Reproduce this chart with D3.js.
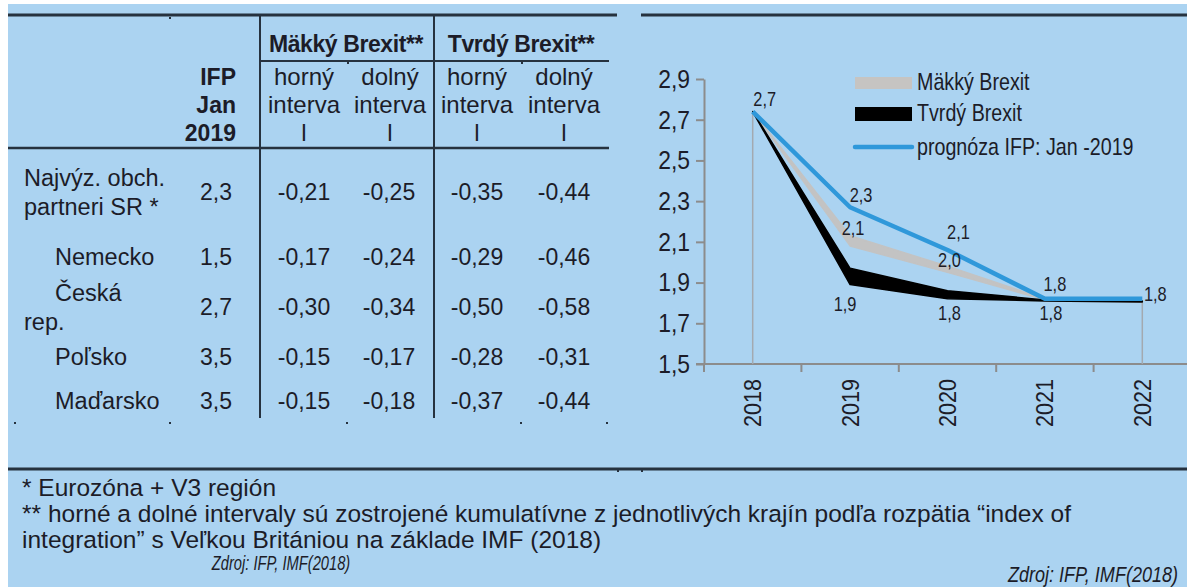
<!DOCTYPE html>
<html>
<head>
<meta charset="utf-8">
<script src="https://cdn.jsdelivr.net/npm/d3@7"></script>
<style>
  html, body { margin: 0; padding: 0; background: #ffffff; }
  svg { display: block; }
  text { font-family: "Liberation Sans", Arial, sans-serif; fill: #1c1c28; }
</style>
</head>
<body>
<svg id="root" width="1187" height="587"></svg>
<script>
// ---------------- DATA ----------------
// Table
const rowLabels = [["Najvýz. obch.", "partneri SR *"], ["Nemecko"], ["Česká", "rep."], ["Poľsko"], ["Maďarsko"]];
const ifpJan2019 = [2.3, 1.5, 2.7, 3.5, 3.5];
const softUpperTbl = [-0.21, -0.17, -0.30, -0.15, -0.15];
const softLowerTbl = [-0.25, -0.24, -0.34, -0.17, -0.18];
const hardUpperTbl = [-0.35, -0.29, -0.50, -0.28, -0.37];
const hardLowerTbl = [-0.44, -0.46, -0.58, -0.31, -0.44];
const groupHeaders = ["Mäkký Brexit**", "Tvrdý Brexit**"];
const subHeaders = [["horný", "interva", "l"], ["dolný", "interva", "l"], ["horný", "interva", "l"], ["dolný", "interva", "l"]];
const ifpHeader = ["IFP", "Jan", "2019"];

// Chart
const years = ["2018", "2019", "2020", "2021", "2022"];
const ifpForecast = [2.74, 2.27, 2.06, 1.82, 1.82];
const softUpper = [2.74, 2.13, 1.98, 1.82, 1.81];
const softLower = [2.74, 2.08, 1.95, 1.815, 1.805];
const hardUpper = [2.74, 1.97, 1.86, 1.815, 1.81];
const hardLower = [2.74, 1.89, 1.82, 1.81, 1.805];
const yTicks = [1.5, 1.7, 1.9, 2.1, 2.3, 2.5, 2.7, 2.9];
const legendLabels = ["Mäkký Brexit", "Tvrdý Brexit", "prognóza IFP: Jan -2019"];

const footnotes = [
  "* Eurozóna + V3 región",
  "** horné a dolné intervaly sú zostrojené kumulatívne z jednotlivých krajín podľa rozpätia “index of",
  "integration” s Veľkou Britániou na základe IMF (2018)"
];
const sourceText = "Zdroj: IFP, IMF(2018)";

// ---------------- DRAW ----------------
const svg = d3.select("#root");
const BG = "#abd3f1";
const LINE = "#26323f";
const fix = s => s.replace("\u2212", "-").replace(".", ",");
const comma1 = v => fix(d3.format(".1f")(v));
const comma2 = v => fix(d3.format(".2f")(v));

svg.append("rect").attr("x", 8).attr("y", 4).attr("width", 1179).attr("height", 583).attr("fill", BG);

// --- table frame
const hl = (x1, x2, y, w) => svg.append("line").attr("x1", x1).attr("x2", x2).attr("y1", y).attr("y2", y)
  .attr("stroke", LINE).attr("stroke-width", w);
hl(8, 617, 15, 3);
hl(641, 1187, 15, 3);
hl(260, 609, 61, 2);
hl(8, 609, 148, 2.5);
hl(8, 1187, 469, 3);
[260, 434].forEach(x => svg.append("line").attr("x1", x).attr("x2", x).attr("y1", 15).attr("y2", 418)
  .attr("stroke", LINE).attr("stroke-width", 2));
// small marks (artifacts of original)
[[15, 423], [170, 423], [347, 423], [521, 423], [607, 423], [170, 18], [348, 63], [522, 63], [618, 471], [642, 471]]
  .forEach(([x, y]) => svg.append("rect").attr("x", x - 1).attr("y", y - 1).attr("width", 2).attr("height", 2).attr("fill", LINE));

// group headers
const groupX = [346, 521];
groupHeaders.forEach((t, i) => svg.append("text").attr("x", groupX[i]).attr("y", 44).attr("dy", "0.35em")
  .attr("text-anchor", "middle").attr("font-weight", "bold").attr("font-size", 23).attr("letter-spacing", -0.4).text(t));

const colX = [304, 390, 477, 564];
const headerY = [77, 105, 133];
subHeaders.forEach((lines, i) => lines.forEach((t, j) =>
  svg.append("text").attr("x", colX[i]).attr("y", headerY[j]).attr("dy", "0.35em").attr("text-anchor", "middle")
    .attr("font-size", 24).text(t)));
ifpHeader.forEach((t, j) => svg.append("text").attr("x", 236).attr("y", headerY[j]).attr("dy", "0.35em")
  .attr("text-anchor", "end").attr("font-weight", "bold").attr("font-size", 23).text(t));

// rows
const rowY = [192, 257, 307, 357, 401];
const labelLayout = [[{x: 24, dy: -14}, {x: 24, dy: 15}], [{x: 55, dy: 0}], [{x: 55, dy: -14}, {x: 24, dy: 15}], [{x: 55, dy: 0}], [{x: 55, dy: 0}]];
rowLabels.forEach((lines, i) => lines.forEach((t, j) =>
  svg.append("text").attr("x", labelLayout[i][j].x).attr("y", rowY[i] + labelLayout[i][j].dy).attr("dy", "0.35em")
    .attr("font-size", 23.5).text(t)));
const tblCols = [ifpJan2019, softUpperTbl, softLowerTbl, hardUpperTbl, hardLowerTbl];
const tblX = [216, 304, 389, 477, 564];
tblCols.forEach((col, c) => col.forEach((v, i) =>
  svg.append("text").attr("x", tblX[c]).attr("y", rowY[i]).attr("dy", "0.35em").attr("text-anchor", "middle")
    .attr("font-size", 23).text(c === 0 ? comma1(v) : comma2(v))));

// footnotes
const fnY = [487, 513, 539];
footnotes.forEach((t, i) => svg.append("text").attr("x", 22).attr("y", fnY[i]).attr("dy", "0.35em")
  .attr("font-size", 24.5).text(t));
const NARROW = 0.82;
svg.append("text").attr("transform", `translate(281,563) scale(0.7,1)`).attr("dy", "0.35em").attr("text-anchor", "middle")
  .attr("font-style", "italic").attr("font-size", 21).text(sourceText);
svg.append("text").attr("transform", `translate(1093,574) scale(${NARROW},1)`).attr("dy", "0.35em").attr("text-anchor", "middle")
  .attr("font-style", "italic").attr("font-size", 22).text(sourceText);

// --- chart
const x = d3.scaleBand().domain(years).range([704, 1191]).padding(0);
const cx = d => x(d) + x.bandwidth() / 2;
const y = d3.scaleLinear().domain([1.5, 2.9]).range([364, 79]);
const AXIS = "#8c8c8c";

// y axis
const yAxis = svg.append("g").attr("transform", "translate(704,0)")
  .call(d3.axisLeft(y).tickValues(yTicks).tickFormat(comma1).tickSize(8).tickSizeOuter(0).tickPadding(6));
yAxis.select(".domain").attr("stroke", AXIS).attr("stroke-width", 2);
yAxis.selectAll(".tick line").attr("stroke", AXIS).attr("stroke-width", 2);
yAxis.selectAll(".tick text").attr("font-size", 26).attr("fill", "#1c1c28")
  .attr("font-family", "Liberation Sans, Arial, sans-serif")
  .each(function() {
    const t = d3.select(this);
    const xx = +t.attr("x");
    t.attr("x", null).attr("transform", `translate(${xx},0) scale(0.88,1)`);
  });

// x axis (labels rotated, ticks at band boundaries)
const xAxis = svg.append("g").attr("transform", "translate(0,364)")
  .call(d3.axisBottom(x).tickSize(0).tickSizeOuter(0).tickPadding(0));
xAxis.select(".domain").remove();
svg.append("line").attr("x1", 696).attr("x2", 1187).attr("y1", 364).attr("y2", 364).attr("stroke", AXIS).attr("stroke-width", 2);
years.forEach(yr => svg.append("line").attr("x1", x(yr)).attr("x2", x(yr)).attr("y1", 364).attr("y2", 372)
  .attr("stroke", AXIS).attr("stroke-width", 2));
xAxis.selectAll(".tick text").attr("font-size", 24).attr("fill", "#1c1c28")
  .attr("font-family", "Liberation Sans, Arial, sans-serif")
  .attr("y", null).attr("dy", null)
  .attr("text-anchor", "end").attr("dominant-baseline", "central")
  .attr("transform", `translate(0,15) rotate(-90) scale(0.9,1)`);

// drop lines at first and last category
svg.append("line").attr("x1", cx(years[0])).attr("x2", cx(years[0])).attr("y1", y(softUpper[0])).attr("y2", 364)
  .attr("stroke", "#a3a9b0").attr("stroke-width", 1.5);
const last = years.length - 1;
svg.append("line").attr("x1", cx(years[last])).attr("x2", cx(years[last])).attr("y1", y(softLower[last])).attr("y2", 364)
  .attr("stroke", "#a3a9b0").attr("stroke-width", 1.5);

const idx = d3.range(years.length);
const band = (up, lo) => d3.area().x(i => cx(years[i])).y0(i => y(lo[i])).y1(i => y(up[i]));
svg.append("path").datum(idx).attr("d", band(softUpper, softLower)).attr("fill", "#c3c3c3")
  .attr("stroke", "#c3c3c3").attr("stroke-width", 1.5).attr("stroke-linejoin", "round");
svg.append("path").datum(idx).attr("d", band(hardUpper, hardLower)).attr("fill", "#000")
  .attr("stroke", "#000").attr("stroke-width", 1.5).attr("stroke-linejoin", "round");
svg.append("path").datum(idx)
  .attr("d", d3.line().x(i => cx(years[i])).y(i => y(ifpForecast[i])))
  .attr("fill", "none").attr("stroke", "#2f98da").attr("stroke-width", 4.5).attr("stroke-linejoin", "round");

// data labels
const dataLabels = [
  {s: ifpForecast, i: 0, dx: 12, dy: -13},
  {s: ifpForecast, i: 1, dx: 11, dy: -12},
  {s: ifpForecast, i: 2, dx: 11, dy: -18},
  {s: ifpForecast, i: 3, dx: 10, dy: -15},
  {s: ifpForecast, i: 4, dx: 13, dy: -5},
  {s: softUpper, i: 1, dx: 3, dy: -8},
  {s: softUpper, i: 2, dx: 2, dy: -6},
  {s: hardLower, i: 1, dx: -5, dy: 19},
  {s: hardLower, i: 2, dx: 2, dy: 14},
  {s: hardLower, i: 3, dx: 6, dy: 12}
];
dataLabels.forEach(l => svg.append("text")
  .attr("transform", `translate(${cx(years[l.i]) + l.dx},${y(l.s[l.i]) + l.dy}) scale(${NARROW},1)`)
  .attr("text-anchor", "middle").attr("dy", "0.35em").attr("font-size", 20).text(comma1(l.s[l.i])));

// legend
const lg = svg.append("g");
lg.append("rect").attr("x", 855).attr("y", 77).attr("width", 57).attr("height", 12).attr("fill", "#c6c4c2");
lg.append("rect").attr("x", 855).attr("y", 107).attr("width", 57).attr("height", 14).attr("fill", "#000");
lg.append("line").attr("x1", 855).attr("x2", 912).attr("y1", 147).attr("y2", 147).attr("stroke", "#2f98da")
  .attr("stroke-width", 4.5).attr("stroke-linecap", "round");
const legY = [82, 113, 147];
legendLabels.forEach((t, i) => lg.append("text")
  .attr("transform", `translate(917,${legY[i]}) scale(${NARROW},1)`).attr("dy", "0.35em")
  .attr("font-size", 24).text(t));
</script>
</body>
</html>
